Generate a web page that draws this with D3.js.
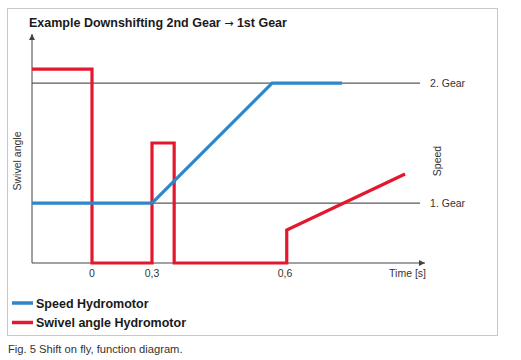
<!DOCTYPE html>
<html>
<head>
<meta charset="utf-8">
<script src="https://cdn.jsdelivr.net/npm/d3@7"></script>
<style>
  body { margin: 0; background: #fff; }
  text { font-family: "Liberation Sans", Arial, sans-serif; }
</style>
</head>
<body>
<div id="chart"></div>
<script>
// time points (s), the diagram is not drawn to scale so the x scale is piecewise
var timeKnots = [-0.3, 0, 0.3, 0.6, 1.0]
var tickTimes = [0, 0.3, 0.6]
var tickLabels = ['0', '0,3', '0,6']

// gear levels (arbitrary units 0..100)
var gearLevels = [26.5, 79.6]
var gearLabels = ['1. Gear', '2. Gear']

// Speed Hydromotor
var speedTime = [-0.3, 0.3, 0.571, 0.763]
var speedValue = [26.5, 26.5, 79.6, 79.6]

// Swivel angle Hydromotor
var swivelTime = [-0.3, 0, 0, 0.3, 0.3, 0.35, 0.35, 0.605, 0.605, 0.943]
var swivelValue = [85.8, 85.8, 0, 0, 53.1, 53.1, 0, 0, 14.6, 39.4]

var legendNames = ['Speed Hydromotor', 'Swivel angle Hydromotor']
var blue = '#2f86c8'
var red = '#e3172d'

var width = 521, height = 360

var svg = d3.select('#chart').append('svg')
  .attr('width', width)
  .attr('height', height)

// frame
svg.append('rect')
  .attr('x', 7.5).attr('y', 8.5)
  .attr('width', 490).attr('height', 327)
  .attr('fill', 'none')
  .attr('stroke', '#c8c8c8')
  .attr('stroke-width', 1)

var title = svg.append('text')
  .attr('x', 29).attr('y', 27)
  .attr('font-size', 12.5)
  .attr('font-weight', 'bold')
  .attr('fill', '#1a1a1a')
title.append('tspan').text('Example Downshifting 2nd Gear ')
title.append('tspan')
  .style('font-family', '"DejaVu Sans"')
  .attr('font-weight', 'normal')
  .attr('font-size', 11)
  .text('\u2192')
title.append('tspan').text(' 1st Gear')

var x = d3.scaleLinear()
  .domain(timeKnots)
  .range([32, 92, 152, 285, 425])

var y = d3.scaleLinear()
  .domain([0, 100])
  .range([263, 37])

var defs = svg.append('defs')
defs.append('marker')
  .attr('id', 'arrow')
  .attr('viewBox', '0 0 10 10')
  .attr('refX', 10).attr('refY', 5)
  .attr('markerWidth', 6).attr('markerHeight', 6)
  .attr('markerUnits', 'userSpaceOnUse')
  .attr('orient', 'auto')
  .append('path')
  .attr('d', 'M0,0 L10,5 L0,10 Z')
  .attr('fill', '#444')

// gear reference lines
var gearX2 = x(0.986)
svg.selectAll('.gear')
  .data(gearLevels)
  .enter().append('line')
  .attr('class', 'gear')
  .attr('x1', x(-0.3)).attr('x2', gearX2)
  .attr('y1', function(d) { return y(d) })
  .attr('y2', function(d) { return y(d) })
  .attr('stroke', '#5a5a5a')
  .attr('stroke-width', 1.3)

svg.selectAll('.gearLabel')
  .data(gearLevels)
  .enter().append('text')
  .attr('x', gearX2 + 10)
  .attr('y', function(d) { return y(d) + 4 })
  .attr('font-size', 10.5)
  .attr('fill', '#333')
  .text(function(d, i) { return gearLabels[i] })

// axes
svg.append('line')
  .attr('x1', x(-0.3)).attr('y1', y(0))
  .attr('x2', x(-0.3)).attr('y2', y(100) - 3)
  .attr('stroke', '#444').attr('stroke-width', 1)
  .attr('marker-end', 'url(#arrow)')

svg.append('line')
  .attr('x1', x(-0.3)).attr('y1', y(0))
  .attr('x2', x(1.0)).attr('y2', y(0))
  .attr('stroke', '#444').attr('stroke-width', 1)
  .attr('marker-end', 'url(#arrow)')

svg.selectAll('.tick')
  .data(tickTimes)
  .enter().append('text')
  .attr('class', 'tick')
  .attr('x', function(d) { return x(d) })
  .attr('y', 277)
  .attr('text-anchor', 'middle')
  .attr('font-size', 10.5)
  .attr('fill', '#333')
  .text(function(d, i) { return tickLabels[i] })

svg.append('text')
  .attr('x', 426).attr('y', 277)
  .attr('text-anchor', 'end')
  .attr('font-size', 10.5)
  .attr('fill', '#333')
  .text('Time [s]')

svg.append('text')
  .attr('transform', 'translate(21,161) rotate(-90)')
  .attr('text-anchor', 'middle')
  .attr('font-size', 10.5)
  .attr('fill', '#333')
  .text('Swivel angle')

svg.append('text')
  .attr('transform', 'translate(441,161) rotate(-90)')
  .attr('text-anchor', 'middle')
  .attr('font-size', 10.5)
  .attr('fill', '#333')
  .text('Speed')

// series
var line = d3.line()
  .x(function(d) { return x(d[0]) })
  .y(function(d) { return y(d[1]) })

svg.append('path')
  .datum(d3.zip(swivelTime, swivelValue))
  .attr('d', line)
  .attr('fill', 'none')
  .attr('stroke', red)
  .attr('stroke-width', 3.2)

svg.append('path')
  .datum(d3.zip(speedTime, speedValue))
  .attr('d', line)
  .attr('fill', 'none')
  .attr('stroke', blue)
  .attr('stroke-width', 3.2)

// legend
var legendColors = [blue, red]
var lg = svg.selectAll('.legend')
  .data(legendNames)
  .enter().append('g')
  .attr('class', 'legend')
  .attr('transform', function(d, i) { return 'translate(12,' + (303 + i * 19.5) + ')' })

lg.append('line')
  .attr('x1', 0).attr('x2', 21)
  .attr('stroke', function(d, i) { return legendColors[i] })
  .attr('stroke-width', 3.5)

lg.append('text')
  .attr('x', 24).attr('y', 4.5)
  .attr('font-size', 12.5)
  .attr('font-weight', 'bold')
  .attr('fill', '#1a1a1a')
  .text(function(d) { return d })

svg.append('text')
  .attr('x', 8).attr('y', 353)
  .attr('font-size', 11.2)
  .attr('fill', '#333')
  .text('Fig. 5 Shift on fly, function diagram.')
</script>
</body>
</html>
